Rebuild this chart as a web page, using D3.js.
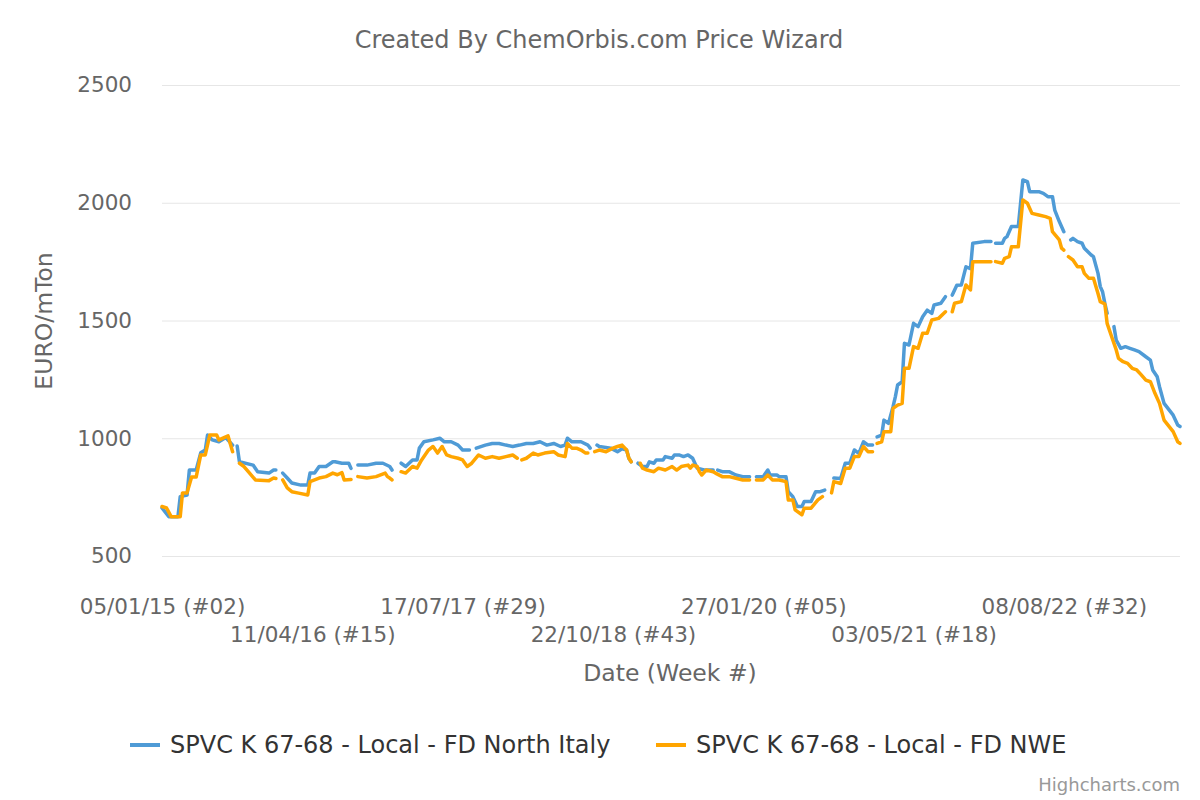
<!DOCTYPE html>
<html>
<head>
<meta charset="utf-8">
<script src="https://cdn.jsdelivr.net/npm/d3@7"></script>
<style>
    body { margin: 0; background: #ffffff; }
    svg { font-family: "DejaVu Sans", sans-serif; }
</style>
</head>
<body>
<div id="chart"></div>
<script>
// week index (0 = 05/01/15) and EURO/mTon, null = no quote that week
var italyPoints = [
    [0, 704], [3, 667], [7, 667], [8, 752], [11, 759], [12, 865], [15, 865], [17, 938], [19, 950],
    [20, 1014], [22, 993], [25, 985], [28, 1003], [31, 971], [32, null], [33, 967], [34, 900],
    [40, 886], [42, 858], [47, 852], [49, 865], [50, 865], [51, null], [53, 852], [55, 831],
    [57, 810], [61, 801], [64, 801], [65, 852], [67, 852], [69, 880], [72, 880], [75, 900],
    [76, 900], [79, 894], [82, 894], [83, 872], [84, null], [86, 886], [90, 886], [94, 894],
    [97, 894], [100, 880], [101, 865], [103, null], [105, 894], [107, 880], [110, 908], [112, 908],
    [113, 958], [115, 985], [119, 993], [122, 1000], [124, 985], [127, 985], [130, 971], [132, 950],
    [135, 950], [137, null], [138, 958], [142, 971], [145, 978], [148, 978], [151, 971], [154, 965],
    [157, 971], [160, 978], [163, 978], [166, 985], [169, 971], [172, 978], [175, 965], [177, 971],
    [178, 1000], [180, 985], [184, 985], [187, 971], [188, 958], [190, null], [191, 971], [192, 965],
    [197, 958], [200, 943], [202, 955], [204, 950], [205, 915], [206, 900], [208, null], [209, 894],
    [211, 880], [213, 880], [214, 900], [216, 894], [217, 908], [220, 908], [221, 922], [224, 915],
    [225, 929], [227, 929], [229, 922], [231, 929], [233, 915], [234, 894], [235, 873], [238, 865],
    [242, 865], [243, null], [244, 865], [246, 858], [249, 858], [252, 844], [255, 837], [258, 837],
    [259, null], [261, 837], [264, 837], [266, 865], [267, 844], [270, 844], [271, 837], [274, 837],
    [275, 773], [277, 752], [279, 710], [281, 710], [282, 731], [285, 731], [287, 773], [289, 773],
    [291, 780], [293, null], [295, 831], [298, 829], [300, 894], [302, 894], [304, 950], [306, 936],
    [308, 985], [310, 971], [312, 971], [313, null], [314, 1006], [316, 1013], [317, 1077], [319, 1063],
    [321, 1134], [322, 1176], [323, 1226], [325, 1240], [326, 1403], [328, 1396], [330, 1488], [332, 1474],
    [334, 1516], [336, 1544], [338, 1530], [339, 1566], [342, 1573], [344, 1601], [345, null], [347, 1608],
    [349, 1650], [351, 1651], [353, 1728], [355, 1720], [356, 1828], [361, 1835], [364, 1835], [365, null],
    [366, 1828], [369, 1828], [370, 1849], [371, 1856], [373, 1899], [376, 1899], [378, 2097], [380, 2090],
    [381, 2047], [385, 2047], [387, 2040], [389, 2026], [391, 2026], [392, 1969], [394, 1920], [396, 1877],
    [397, null], [399, 1842], [400, 1849], [402, 1835], [404, 1828], [405, 1807], [408, 1778], [409, 1771],
    [411, 1700], [412, 1644], [413, 1622], [414, 1573], [415, 1531], [416, null], [418, 1474], [419, 1417],
    [421, 1382], [423, 1389], [425, 1382], [427, 1375], [429, 1368], [432, 1346], [434, 1332], [435, 1290],
    [437, 1261], [438, 1219], [440, 1148], [444, 1098], [446, 1056], [447, 1050]
];

var nwePoints = [
    [0, 710], [2, 704], [4, 667], [8, 667], [9, 768], [11, 768], [13, 835], [15, 835], [17, 929],
    [19, 929], [21, 1014], [24, 1014], [25, 993], [29, 1010], [31, 943], [32, null], [34, 894],
    [36, 880], [41, 823], [47, 820], [49, 831], [50, 829], [51, null], [53, 823], [55, 789],
    [57, 773], [60, 767], [64, 759], [65, 816], [69, 831], [72, 837], [75, 852], [77, 845],
    [79, 854], [80, 823], [83, 825], [84, null], [86, 837], [90, 831], [94, 837], [98, 852],
    [99, 837], [100, 831], [101, 823], [103, null], [105, 858], [107, 852], [110, 880], [112, 873],
    [114, 908], [117, 950], [119, 965], [121, 937], [123, 965], [125, 929], [127, 922], [130, 915],
    [132, 908], [134, 880], [136, 894], [139, 929], [142, 915], [145, 922], [148, 915], [151, 922],
    [154, 929], [156, 915], [157, null], [158, 908], [160, 915], [163, 937], [165, 929], [168, 937],
    [172, 943], [174, 929], [177, 922], [178, 978], [180, 958], [182, 958], [184, 950], [186, 937],
    [187, 937], [189, null], [190, 943], [192, 950], [195, 943], [198, 958], [200, 965], [202, 971],
    [204, 950], [205, 915], [206, 900], [207, null], [210, 894], [211, 873], [213, 865], [216, 858],
    [218, 873], [221, 865], [224, 880], [226, 865], [228, 880], [231, 886], [232, 873], [233, 886],
    [235, 880], [236, 858], [237, 844], [239, 865], [242, 858], [243, 852], [246, 837], [249, 837],
    [252, 830], [255, 823], [258, 823], [259, null], [261, 823], [264, 823], [266, 844], [268, 823],
    [271, 823], [274, 816], [275, 738], [277, 738], [278, 696], [281, 675], [282, 703], [285, 703],
    [288, 738], [290, 752], [292, null], [294, 768], [295, 816], [298, 808], [300, 873], [302, 873],
    [304, 922], [306, 922], [308, 965], [310, 943], [312, 943], [313, null], [314, 978], [316, 985],
    [317, 1028], [320, 1028], [321, 1127], [323, 1141], [325, 1148], [326, 1297], [328, 1297], [330, 1389],
    [332, 1382], [334, 1446], [336, 1446], [338, 1502], [341, 1509], [344, 1537], [345, null], [347, 1537],
    [348, 1573], [351, 1580], [353, 1651], [355, 1630], [356, 1750], [364, 1750], [365, null], [366, 1750],
    [369, 1743], [370, 1764], [372, 1771], [373, 1813], [376, 1813], [378, 2012], [380, 1998], [382, 1955],
    [385, 1948], [388, 1941], [390, 1934], [391, 1877], [394, 1842], [395, 1807], [396, 1799], [397, null],
    [398, 1771], [400, 1757], [402, 1728], [404, 1728], [405, 1700], [407, 1679], [409, 1679], [411, 1615],
    [412, 1580], [414, 1570], [415, 1488], [417, 1431], [419, 1375], [420, 1339], [422, 1325], [424, 1318],
    [426, 1297], [428, 1290], [430, 1269], [432, 1247], [434, 1240], [436, 1191], [438, 1148], [440, 1077],
    [444, 1028], [446, 985], [447, 978]
];

var seriesNames = ['SPVC K 67-68 - Local - FD North Italy', 'SPVC K 67-68 - Local - FD NWE'];
var seriesColors = ['#4f9bd6', '#ffa500'];

var tickWeeks = [0, 66, 132, 198, 264, 330, 396];
var tickLabels = ['05/01/15 (#02)', '11/04/16 (#15)', '17/07/17 (#29)', '22/10/18 (#43)',
                  '27/01/20 (#05)', '03/05/21 (#18)', '08/08/22 (#32)'];
var yTicks = [500, 1000, 1500, 2000, 2500];

var width = 1200,
    height = 800,
    plot = {left: 162, right: 1180, top: 85, bottom: 556};

var svg = d3.select('#chart')
    .append('svg')
    .attr('width', width)
    .attr('height', height);

var x = d3.scaleLinear()
    .domain([0, 447])
    .range([plot.left, plot.right]);

var y = d3.scaleLinear()
    .domain([500, 2500])
    .range([plot.bottom, plot.top]);

// grid + y labels
var yAxis = d3.axisLeft(y)
    .tickValues(yTicks)
    .tickSize(-(plot.right - plot.left))
    .tickPadding(30)
    .tickFormat(d3.format('d'));

svg.append('g')
    .attr('transform', `translate(${plot.left},0)`)
    .call(yAxis)
    .attr('font-family', null)
    .attr('font-size', null)
    .call(function(g) {
        g.select('.domain').remove();
        g.selectAll('.tick line').attr('stroke', '#e6e6e6').attr('stroke-width', 1);
        g.selectAll('.tick text')
            .attr('fill', '#666666')
            .style('font-size', '21.5px');
    });

// x labels, staggered on two lines
var xAxis = d3.axisBottom(x)
    .tickValues(tickWeeks)
    .tickSize(0)
    .tickFormat(function(d, i) { return tickLabels[i]; });

svg.append('g')
    .attr('transform', `translate(0,${plot.bottom})`)
    .call(xAxis)
    .attr('font-family', null)
    .attr('font-size', null)
    .call(function(g) {
        g.select('.domain').remove();
        g.selectAll('.tick text')
            .attr('fill', '#666666')
            .attr('y', function(d, i) { return i % 2 === 0 ? 50 : 78; })
            .attr('dy', '0.35em')
            .style('font-size', '21.5px');
    });

var line = d3.line()
    .defined(function(d) { return d[1] !== null; })
    .x(function(d) { return x(d[0]); })
    .y(function(d) { return y(d[1]); });

[italyPoints, nwePoints].forEach(function(pts, i) {
    svg.append('path')
        .datum(pts)
        .attr('fill', 'none')
        .attr('stroke', seriesColors[i])
        .attr('stroke-width', 3.5)
        .attr('stroke-linejoin', 'round')
        .attr('stroke-linecap', 'round')
        .attr('d', line);
});

// titles
svg.append('text')
    .attr('x', 599)
    .attr('y', 40)
    .attr('dy', '0.35em')
    .attr('text-anchor', 'middle')
    .attr('fill', '#666666')
    .style('font-size', '24px')
    .text('Created By ChemOrbis.com Price Wizard');

svg.append('text')
    .attr('x', 670)
    .attr('y', 673)
    .attr('dy', '0.35em')
    .attr('text-anchor', 'middle')
    .attr('fill', '#666666')
    .style('font-size', '23.5px')
    .text('Date (Week #)');

svg.append('text')
    .attr('transform', 'translate(44,321) rotate(-90)')
    .attr('dy', '0.35em')
    .attr('text-anchor', 'middle')
    .attr('fill', '#666666')
    .style('font-size', '23.5px')
    .text('EURO/mTon');

// legend
var legendX = [130, 656];
var legend = svg.selectAll('.legend')
    .data(seriesNames)
    .enter().append('g')
    .attr('class', 'legend')
    .attr('transform', function(d, i) { return `translate(${legendX[i]},745)`; });

legend.append('line')
    .attr('x1', 0)
    .attr('x2', 30)
    .attr('stroke', function(d, i) { return seriesColors[i]; })
    .attr('stroke-width', 4);

legend.append('text')
    .attr('x', 40)
    .attr('dy', '0.35em')
    .attr('fill', '#333333')
    .style('font-size', '24px')
    .text(function(d) { return d; });

svg.append('text')
    .attr('x', 1180)
    .attr('y', 785)
    .attr('dy', '0.35em')
    .attr('text-anchor', 'end')
    .attr('fill', '#999999')
    .style('font-size', '18px')
    .text('Highcharts.com');
</script>
</body>
</html>
